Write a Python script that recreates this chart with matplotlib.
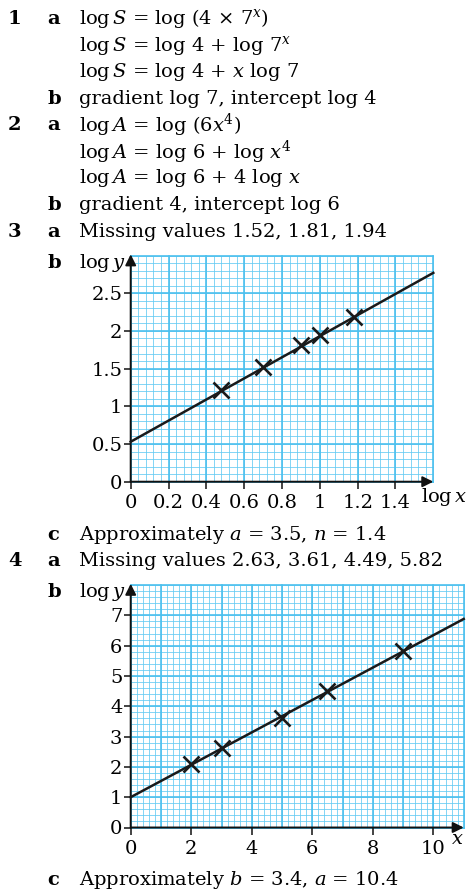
import numpy as np
import matplotlib
matplotlib.use("Agg")
import matplotlib.pyplot as plt

plt.rcParams['font.family'] = ['DejaVu Serif']
plt.rcParams['mathtext.fontset'] = 'dejavuserif'

# ---------------- data ----------------
g1_logx = [0.48, 0.70, 0.90, 1.00, 1.18]
g1_logy = [1.21, 1.52, 1.81, 1.94, 2.19]
g1_line_x = [0.0, 1.6]
g1_line_y = [0.53, 2.77]
g1_xticks = [0, 0.2, 0.4, 0.6, 0.8, 1, 1.2, 1.4]
g1_xticklabels = ['0', '0.2', '0.4', '0.6', '0.8', '1', '1.2', '1.4']
g1_yticks = [0, 0.5, 1, 1.5, 2, 2.5]
g1_yticklabels = ['0', '0.5', '1', '1.5', '2', '2.5']

g2_x = [2, 3, 5, 6.5, 9]
g2_logy = [2.10, 2.63, 3.61, 4.49, 5.82]
g2_line_x = [0.0, 11.0]
g2_line_y = [1.0, 6.88]
g2_xticks = [0, 2, 4, 6, 8, 10]
g2_xticklabels = ['0', '2', '4', '6', '8', '10']
g2_yticks = [0, 1, 2, 3, 4, 5, 6, 7]
g2_yticklabels = ['0', '1', '2', '3', '4', '5', '6', '7']

W, H = 470, 893
fig = plt.figure(figsize=(W / 100, H / 100), dpi=100)

FS = 14
MINOR_C = '#62caf3'
MAJOR_C = '#4cc0ee'


def ty(y):
    return 1 - y / H


def tx(x):
    return x / W


def num(x, y, s):
    fig.text(tx(x), ty(y), s, fontsize=FS, fontweight='bold', va='center', ha='left')


def body(x, y, s):
    fig.text(tx(x), ty(y), s, fontsize=FS, va='center', ha='left')


NX, LX, TX = 8, 47, 79

rows = [
    (19, '1', 'a', 'log$\\,S$ = log (4 × 7$^{x}$)'),
    (46, None, None, 'log$\\,S$ = log 4 + log 7$^{x}$'),
    (72, None, None, 'log$\\,S$ = log 4 + $x$ log 7'),
    (99, None, 'b', 'gradient log 7, intercept log 4'),
    (125, '2', 'a', 'log$\\,A$ = log (6$x^{4}$)'),
    (152, None, None, 'log$\\,A$ = log 6 + log $x^{4}$'),
    (178, None, None, 'log$\\,A$ = log 6 + 4 log $x$'),
    (205, None, 'b', 'gradient 4, intercept log 6'),
    (232, '3', 'a', 'Missing values 1.52, 1.81, 1.94'),
    (263, None, 'b', 'log$\\,y$'),
    (535, None, 'c', 'Approximately $a$ = 3.5, $n$ = 1.4'),
    (561, '4', 'a', 'Missing values 2.63, 3.61, 4.49, 5.82'),
    (592, None, 'b', 'log$\\,y$'),
    (880, None, 'c', 'Approximately $b$ = 3.4, $a$ = 10.4'),
]
for y, n, l, s in rows:
    if n:
        num(NX, y, n)
    if l:
        num(LX, y, l)
    body(TX, y, s)


def make_axes(x0, y0, x1, y1, xmax, ymax, minor, major):
    ax = fig.add_axes([tx(x0), ty(y0), tx(x1) - tx(x0), ty(y1) - ty(y0)])
    ax.set_xlim(0, xmax)
    ax.set_ylim(0, ymax)
    for v in np.arange(0, xmax + 1e-9, minor[0]):
        ax.axvline(v, color=MINOR_C, lw=0.55, zorder=0, clip_on=False)
    for v in np.arange(0, ymax + 1e-9, minor[1]):
        ax.axhline(v, color=MINOR_C, lw=0.55, zorder=0, clip_on=False)
    for v in np.arange(0, xmax + 1e-9, major[0]):
        ax.axvline(v, color=MAJOR_C, lw=1.2, zorder=0, clip_on=False)
    for v in np.arange(0, ymax + 1e-9, major[1]):
        ax.axhline(v, color=MAJOR_C, lw=1.2, zorder=0, clip_on=False)
    for s in ['top', 'right', 'left', 'bottom']:
        ax.spines[s].set_visible(False)
    ax.annotate('', xy=(0, 1.005), xytext=(0, 0), xycoords='axes fraction',
                arrowprops=dict(arrowstyle='-|>', color='#111111', lw=1.4,
                                mutation_scale=16, shrinkA=0, shrinkB=0))
    ax.annotate('', xy=(1.0, 0), xytext=(0, 0), xycoords='axes fraction',
                arrowprops=dict(arrowstyle='-|>', color='#111111', lw=1.4,
                                mutation_scale=16, shrinkA=0, shrinkB=0))
    ax.tick_params(axis='both', direction='out', length=5, width=1.1,
                   color='#111111', labelsize=FS)
    ax.tick_params(axis='y', pad=1)
    ax.tick_params(axis='x', pad=4)
    ax.set_facecolor('white')
    return ax


# Graph 1
ax1 = make_axes(130.7, 481.7, 433.3, 255.5, 1.6, 3.0, (0.04, 0.1), (0.2, 0.5))
ax1.plot(g1_line_x, g1_line_y, color='#1a1a1a', lw=1.8, zorder=3, clip_on=False)
ax1.plot(g1_logx, g1_logy, linestyle='none', marker='x', color='#1a1a1a',
         markersize=11, markeredgewidth=1.9, zorder=4)
ax1.set_xticks(g1_xticks)
ax1.set_xticklabels(g1_xticklabels)
ax1.set_yticks(g1_yticks)
ax1.set_yticklabels(g1_yticklabels)
fig.text(tx(421), ty(497), 'log$\\,x$', fontsize=FS, va='center', ha='left')

# Graph 2
ax2 = make_axes(130.7, 827.5, 463.7, 585.0, 11.0, 8.0, (0.2, 0.2), (1, 1))
ax2.plot(g2_line_x, g2_line_y, color='#1a1a1a', lw=1.8, zorder=3, clip_on=False)
ax2.plot(g2_x, g2_logy, linestyle='none', marker='x', color='#1a1a1a',
         markersize=11, markeredgewidth=1.9, zorder=4)
ax2.set_xticks(g2_xticks)
ax2.set_xticklabels(g2_xticklabels)
ax2.set_yticks(g2_yticks)
ax2.set_yticklabels(g2_yticklabels)
fig.text(tx(451), ty(839), '$x$', fontsize=FS, va='center', ha='left')

fig.savefig('out.png', dpi=100, facecolor='white')
